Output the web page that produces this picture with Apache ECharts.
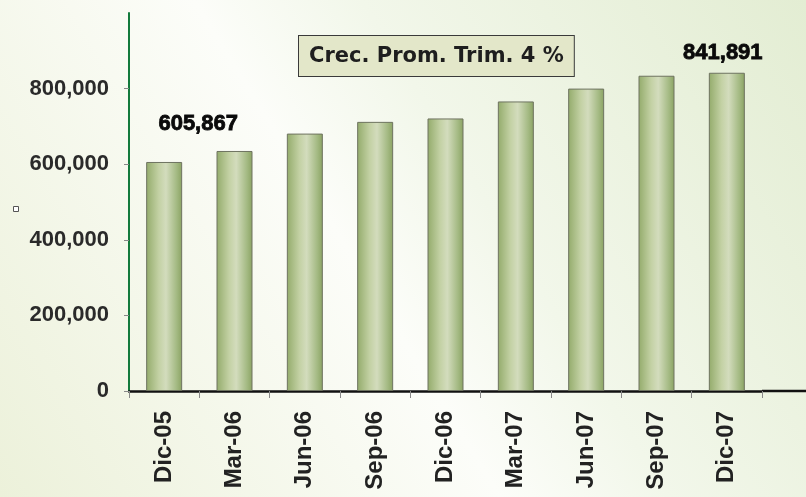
<!DOCTYPE html>
<html>
<head>
<meta charset="utf-8">
<script src="https://cdn.jsdelivr.net/npm/echarts@6/dist/echarts.min.js"></script>
<style>
  html, body { margin: 0; padding: 0; }
  #chart { width: 806px; height: 497px; }
</style>
</head>
<body>
<div id="chart"></div>
<script>
// 季度 (categories)
const quarters = ['Dic-05', 'Mar-06', 'Jun-06', 'Sep-06', 'Dic-06', 'Mar-07', 'Jun-07', 'Sep-07', 'Dic-07'];
// values
const values = [605867, 635000, 681000, 712000, 721000, 766000, 800000, 834000, 841891];
const yTicks = [0, 200000, 400000, 600000, 800000];
const note = 'Crec. Prom. Trim. 4 %';

const chart = echarts.init(document.getElementById('chart'));

const fmt = v => v.toLocaleString('en-US');

const barFill = new echarts.graphic.LinearGradient(0, 0, 1, 0, [
  { offset: 0, color: '#93ab6b' },
  { offset: 0.35, color: '#c3d1a4' },
  { offset: 0.55, color: '#d3dcbd' },
  { offset: 0.85, color: '#a3b982' },
  { offset: 1, color: '#8aa262' }
]);

const data = values.map((v, i) => {
  const item = { value: v };
  // only first and last bar get a number
  if (i === 0) {
    item.label = { show: true, offset: [34, -22] };
  } else if (i === values.length - 1) {
    item.label = { show: true, offset: [-4, -4] };
  }
  return item;
});

chart.setOption({
  backgroundColor: new echarts.graphic.LinearGradient(0, 1, 1, 0, [
    { offset: 0, color: '#ecf1da' },
    { offset: 0.45, color: '#fcfdf9' },
    { offset: 0.6, color: '#f2f7ea' },
    { offset: 1, color: '#e3edd3' }
  ]),
  animation: false,
  grid: { left: 129, right: 44, top: 13, bottom: 106 },
  xAxis: {
    type: 'category',
    data: quarters,
    boundaryGap: true,
    axisLine: { lineStyle: { color: '#111', width: 2.5 } },
    axisTick: { show: true, length: 7, lineStyle: { color: '#888', width: 1 } },
    axisLabel: {
      rotate: 90,
      margin: 20,
      color: '#222',
      fontFamily: 'Liberation Sans',
      fontWeight: 'bold',
      fontSize: 24
    }
  },
  yAxis: {
    type: 'value',
    min: 0,
    max: 1000000,
    interval: 200000,
    splitLine: { show: false },
    axisLine: { show: true, lineStyle: { color: '#137a3c', width: 2 } },
    axisTick: { show: true, length: 5, lineStyle: { color: '#888' } },
    axisLabel: {
      margin: 20,
      color: '#2a2a2a',
      fontFamily: 'Liberation Sans',
      fontWeight: 'bold',
      fontSize: 22,
      showMaxLabel: false,
      formatter: v => (yTicks.indexOf(v) >= 0 ? fmt(v) : '')
    }
  },
  series: [{
    type: 'bar',
    data: data,
    barWidth: 36,
    itemStyle: { color: barFill, borderColor: '#6e7360', borderWidth: 1 },
    label: {
      show: false,
      position: 'top',
      color: '#0a0a0a',
      fontFamily: 'Liberation Sans',
      fontWeight: 'bold',
      fontSize: 22,
      textBorderColor: '#0a0a0a',
      textBorderWidth: 0.8,
      formatter: p => fmt(p.value)
    }
  }],
  graphic: [
    {
      type: 'text',
      left: 298,
      top: 35,
      style: {
        text: note,
        fontFamily: 'DejaVu Sans',
        fontWeight: 'bold',
        fontSize: 21,
        fill: '#1e1e1e',
        backgroundColor: '#e3e7c9',
        borderColor: '#3a3a3a',
        borderWidth: 1,
        padding: [10, 10, 9, 10]
      }
    },
    {
      // x axis line keeps going to the right edge
      type: 'line',
      shape: { x1: 762, y1: 391, x2: 806, y2: 391 },
      style: { stroke: '#111', lineWidth: 2.5 }
    },
    {
      type: 'rect',
      left: 13,
      top: 206,
      shape: { width: 5, height: 5 },
      style: { fill: '#fff', stroke: '#555', lineWidth: 1 }
    }
  ]
});
</script>
</body>
</html>
